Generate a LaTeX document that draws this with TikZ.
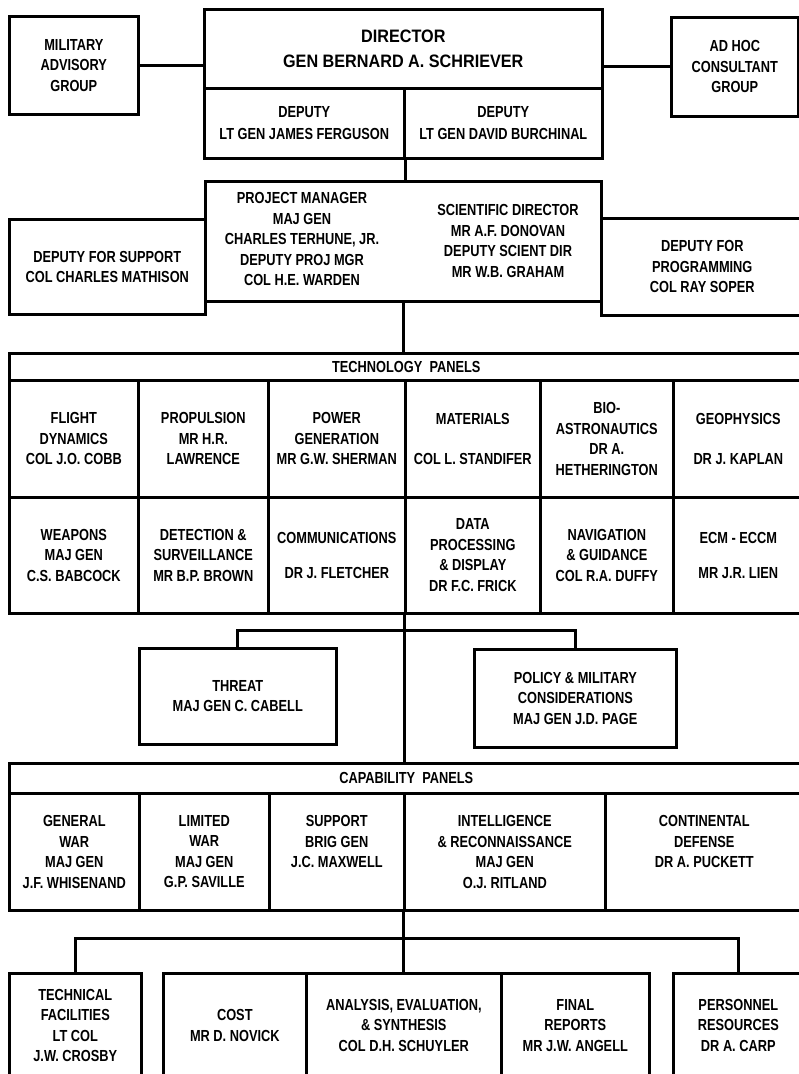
\documentclass[tikz,border=0pt]{standalone}
\usepackage{fontspec}
\newfontfamily\panelfont{Liberation Sans}[FakeStretch=0.8]
\newfontfamily\dirfont{Liberation Sans}[FakeStretch=0.9]
\usepackage{tikz}

\tikzset{
  box/.style={draw, line width=2.6pt, inner sep=0pt, anchor=north west, align=center,
    font=\panelfont\bfseries\fontsize{16}{20.5}\selectfont},
  dims/.style 2 args={minimum width=#1pt, minimum height=#2pt},
  txt/.style={inner sep=0pt, align=center, font=\panelfont\bfseries\fontsize{16}{20.5}\selectfont},
  wire/.style={line width=3pt},
}

\begin{document}
\begin{tikzpicture}[x=1pt,y=-1pt]
    \useasboundingbox (0,0) rectangle (799,1074);
    % director and advisers
    \node[box,dims={129}{98}] (mag) at (8,15) {MILITARY\\ADVISORY\\GROUP};
    \node[box,dims={398}{79},font=\dirfont\bfseries\fontsize{18}{25}\selectfont] (dir) at (203,8)
      {DIRECTOR\\GEN BERNARD A. SCHRIEVER};
    \node[box,dims={200}{70}] (depa) at (203,87) {DEPUTY\\[2pt]LT GEN JAMES FERGUSON};
    \node[box,dims={198}{70}] (depb) at (403,87) {DEPUTY\\[2pt]LT GEN DAVID BURCHINAL};
    \node[box,dims={127}{99}] (adhoc) at (670,16) {AD HOC\\CONSULTANT\\GROUP};
    \draw[wire] (mag.east) -- (mag.east -| dir.west);
    \draw[wire] (adhoc.west) -- (adhoc.west -| dir.east);

    % project manager row
    \node[box,dims={396}{120}] (pm) at (204,180) {};
    \node[txt] (pmgr) at (302,239) {PROJECT MANAGER\\MAJ GEN\\CHARLES TERHUNE, JR.\\DEPUTY PROJ MGR\\COL H.E. WARDEN};
    \node[txt] (sci) at (508,241) {SCIENTIFIC DIRECTOR\\MR A.F. DONOVAN\\DEPUTY SCIENT DIR\\MR W.B. GRAHAM};
    \node[box,dims={196}{95}] (supp) at (8,218) {DEPUTY FOR SUPPORT\\COL CHARLES MATHISON};
    \node[box,dims={202}{97}] (prog) at (600,217) {DEPUTY FOR\\PROGRAMMING\\COL RAY SOPER};
    \draw[wire] (depa.south east) -- (depa.south east |- pm.north);

    % technology panels
    \node[box,dims={794}{27}] (tech) at (8,352) {TECHNOLOGY~~PANELS};
    \draw[wire] (pm.south) -- (pm.south |- tech.north);
    \node[box,dims={129}{117}] (flight) at (8,379) {FLIGHT\\DYNAMICS\\COL J.O. COBB};
    \node[box,dims={130}{117}] (prop) at (137,379) {PROPULSION\\MR H.R.\\LAWRENCE};
    \node[box,dims={137}{117}] (power) at (267,379) {POWER\\GENERATION\\MR G.W. SHERMAN};
    \node[box,dims={135}{117}] (mat) at (404,379) {MATERIALS\\[20pt]COL L. STANDIFER};
    \node[box,dims={133}{117}] (bio) at (539,379) {BIO-\\ASTRONAUTICS\\DR A.\\HETHERINGTON};
    \node[box,dims={130}{117}] (geo) at (672,379) {GEOPHYSICS\\[20pt]DR J. KAPLAN};
    \node[box,dims={129}{116}] (weap) at (8,496) {WEAPONS\\MAJ GEN\\C.S. BABCOCK};
    \node[box,dims={130}{116}] (detect) at (137,496) {DETECTION \&\\SURVEILLANCE\\MR B.P. BROWN};
    \node[box,dims={137}{116}] (comm) at (267,496) {COMMUNICATIONS\\[14pt]DR J. FLETCHER};
    \node[box,dims={135}{116}] (data) at (404,496) {DATA\\PROCESSING\\\& DISPLAY\\DR F.C. FRICK};
    \node[box,dims={133}{116}] (nav) at (539,496) {NAVIGATION\\\& GUIDANCE\\COL R.A. DUFFY};
    \node[box,dims={130}{116}] (ecm) at (672,496) {ECM - ECCM\\[14pt]MR J.R. LIEN};

    % threat and policy
    \node[box,dims={197}{96}] (threat) at (138,647) {THREAT\\MAJ GEN C. CABELL};
    \node[box,dims={202}{98}] (policy) at (473,648) {POLICY \& MILITARY\\CONSIDERATIONS\\MAJ GEN J.D. PAGE};
    \draw[wire] (threat.north) -- ++(0,-17) -| (policy.north);

    % capability panels
    \node[box,dims={794}{30}] (cap) at (8,762) {CAPABILITY~~PANELS};
    \draw[wire] (data.south west) -- (data.south west |- cap.north);
    \node[box,dims={130}{117}] (genwar) at (8,792) {GENERAL\\WAR\\MAJ GEN\\J.F. WHISENAND};
    \node[box,dims={130}{117}] (limwar) at (138,792) {LIMITED\\WAR\\MAJ GEN\\G.P. SAVILLE};
    \node[box,dims={135}{117}] (support) at (268,792) {SUPPORT\\BRIG GEN\\J.C. MAXWELL\\\mbox{}};
    \node[box,dims={201}{117}] (intel) at (403,792) {INTELLIGENCE\\\& RECONNAISSANCE\\MAJ GEN\\O.J. RITLAND};
    \node[box,dims={198}{117}] (contdef) at (604,792) {CONTINENTAL\\DEFENSE\\DR A. PUCKETT\\\mbox{}};

    % study groups
    \node[box,dims={132}{104}] (techfac) at (8,972) {TECHNICAL\\FACILITIES\\LT COL\\J.W. CROSBY};
    \node[box,dims={143}{104}] (cost) at (162,972) {COST\\MR D. NOVICK};
    \node[box,dims={195}{104}] (analysis) at (305,972) {ANALYSIS, EVALUATION,\\\& SYNTHESIS\\COL D.H. SCHUYLER};
    \node[box,dims={148}{104}] (final) at (500,972) {FINAL\\REPORTS\\MR J.W. ANGELL};
    \node[box,dims={130}{104}] (personnel) at (672,972) {PERSONNEL\\RESOURCES\\DR A. CARP};
    \draw[wire] (intel.south west) -- (intel.south west |- analysis.north);
    \draw[wire] (techfac.north) -- ++(0,-34) -| (personnel.north);
\end{tikzpicture}
\end{document}
